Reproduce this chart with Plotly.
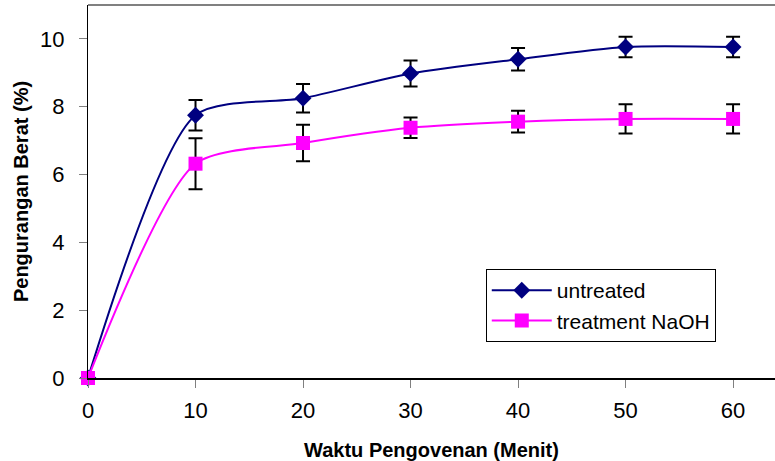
import plotly.graph_objects as go

minutes = [0, 10, 20, 30, 40, 50, 60]
untreated = [0, 7.75, 8.25, 8.98, 9.4, 9.76, 9.76]
untreated_err = [0, 0.45, 0.42, 0.38, 0.33, 0.3, 0.3]
naoh = [0, 6.32, 6.93, 7.38, 7.56, 7.64, 7.64]
naoh_err = [0, 0.75, 0.54, 0.3, 0.32, 0.43, 0.43]

fig = go.Figure()
fig.add_trace(go.Scatter(
    x=minutes, y=untreated, name="untreated", mode="lines+markers",
    line=dict(color="#000080", width=2, shape="spline", smoothing=0.7),
    marker=dict(symbol="diamond", size=13, color="#000080"),
    error_y=dict(type="data", array=untreated_err, color="black", thickness=2, width=7),
    cliponaxis=False,
))
fig.add_trace(go.Scatter(
    x=minutes, y=naoh, name="treatment NaOH", mode="lines+markers",
    line=dict(color="#FF00FF", width=2, shape="spline", smoothing=0.7),
    marker=dict(symbol="square", size=14, color="#FF00FF"),
    error_y=dict(type="data", array=naoh_err, color="black", thickness=2, width=7),
    cliponaxis=False,
))

fig.update_layout(
    width=775, height=461,
    margin=dict(l=88, r=0, t=5, b=83),
    paper_bgcolor="white", plot_bgcolor="white",
    font=dict(family="Liberation Sans, Arial", size=22, color="black"),
    showlegend=True,
    legend=dict(x=0.579, y=0.292, xanchor="left", yanchor="top",
                bordercolor="black", borderwidth=1, bgcolor="white",
                font=dict(size=21), tracegroupgap=0, itemwidth=60),
    shapes=[dict(type="line", xref="paper", yref="paper", x0=0, x1=1, y0=1, y1=1,
                 line=dict(color="gray", width=2))],
)
fig.update_xaxes(
    range=[0, 63.9], tickvals=[0, 10, 20, 30, 40, 50, 60],
    showgrid=False, zeroline=False,
    showline=True, linecolor="black", linewidth=2,
    ticks="outside", ticklen=8, tickcolor="gray",
    ticklabelstandoff=4,
    title=dict(text="<b>Waktu Pengovenan (Menit)</b>", font=dict(size=20), standoff=23),
)
fig.update_yaxes(
    range=[0, 11], tickvals=[0, 2, 4, 6, 8, 10],
    showgrid=False, zeroline=False,
    showline=True, linecolor="black", linewidth=1,
    ticks="outside", ticklen=8, tickcolor="gray",
    ticklabelstandoff=10,
    title=dict(text="<b>Pengurangan Berat (%)</b>", font=dict(size=20), standoff=6),
)

fig.write_html("out.html")
